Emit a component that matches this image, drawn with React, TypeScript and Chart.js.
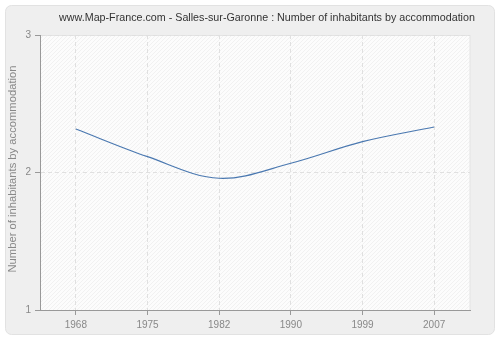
import React, { useEffect, useRef } from "react";
import { Chart, registerables } from "chart.js";

Chart.register(...registerables);

const TITLE = "www.Map-France.com - Salles-sur-Garonne : Number of inhabitants by accommodation";
const Y_TITLE = "Number of inhabitants by accommodation";
const years = ["1968", "1975", "1982", "1990", "1999", "2007"];
const values = [2.316, 2.115, 1.958, 2.067, 2.224, 2.331];
const yTicks = [1, 2, 3];

const FONT = "'Liberation Sans', Arial, sans-serif";

function fitFont(ctx: CanvasRenderingContext2D, text: string, target: number) {
  ctx.font = `12px ${FONT}`;
  const w = ctx.measureText(text).width;
  const size = Math.min(13, Math.max(8, (12 * target) / w));
  ctx.font = `${size.toFixed(2)}px ${FONT}`;
}

const backgroundPlugin = {
  id: "bgPanel",
  beforeDraw(chart: any) {
    const { ctx, chartArea } = chart;
    ctx.save();
    ctx.fillStyle = "#ffffff";
    ctx.fillRect(0, 0, chart.width, chart.height);
    const x = 5.5, y = 5.5, w = 489, h = 329, r = 6;
    ctx.beginPath();
    ctx.moveTo(x + r, y);
    ctx.arcTo(x + w, y, x + w, y + h, r);
    ctx.arcTo(x + w, y + h, x, y + h, r);
    ctx.arcTo(x, y + h, x, y, r);
    ctx.arcTo(x, y, x + w, y, r);
    ctx.closePath();
    ctx.fillStyle = "#efefef";
    ctx.fill();
    ctx.strokeStyle = "#e2e2e2";
    ctx.lineWidth = 1;
    ctx.stroke();
    const { left, top, right, bottom } = chartArea;
    ctx.fillStyle = "#fcfcfc";
    ctx.fillRect(left, top, right - left, bottom - top);
    ctx.beginPath();
    ctx.rect(left, top, right - left, bottom - top);
    ctx.clip();
    ctx.strokeStyle = "#f1f1f1";
    ctx.lineWidth = 1;
    ctx.beginPath();
    const hgt = bottom - top;
    for (let s = left - hgt; s < right + hgt; s += 4) {
      ctx.moveTo(s, bottom);
      ctx.lineTo(s + hgt, top);
    }
    ctx.stroke();
    ctx.restore();
    ctx.save();
    ctx.strokeStyle = "#e4e4e4";
    ctx.lineWidth = 1;
    ctx.strokeRect(left + 0.5, top + 0.5, right - left - 0.5, bottom - top);
    ctx.restore();
  },
  afterDraw(chart: any) {
    const { ctx } = chart;
    ctx.save();
    ctx.fillStyle = "#333333";
    fitFont(ctx, TITLE, 416);
    ctx.textAlign = "center";
    ctx.textBaseline = "middle";
    ctx.fillText(TITLE, 267, 18);
    ctx.translate(13, 169);
    ctx.rotate(-Math.PI / 2);
    ctx.fillStyle = "#888888";
    fitFont(ctx, Y_TITLE, 207);
    ctx.fillText(Y_TITLE, 0, 0);
    ctx.restore();
  },
};

export default function App() {
  const ref = useRef<HTMLCanvasElement>(null);
  useEffect(() => {
    document.body.style.margin = "0";
    const chart = new Chart(ref.current!, {
      type: "line",
      data: {
        labels: years,
        datasets: [
          {
            data: values,
            borderColor: "#4a78b0",
            borderWidth: 1.2,
            pointRadius: 0,
            tension: 0.35,
            fill: false,
          },
        ],
      },
      options: {
        animation: false,
        responsive: false,
        devicePixelRatio: 1,
        layout: { padding: { top: 35, right: 30, left: 0, bottom: 0 } },
        plugins: { legend: { display: false }, title: { display: false }, tooltip: { enabled: false } },
        scales: {
          x: {
            type: "category",
            offset: true,
            grid: {
              offset: false,
              color: "#e0e0e0",
              tickColor: "#999999",
              tickLength: 5,
              drawTicks: true,
            },
            border: { dash: [4, 3], color: "#999999", width: 1 },
            ticks: { color: "#888888", font: { family: "Liberation Sans", size: 10 }, padding: 4, maxRotation: 0 },
            afterFit: (s: any) => { s.height = 30; },
          },
          y: {
            min: 1,
            max: 3,
            afterBuildTicks: (s: any) => { s.ticks = yTicks.map((v) => ({ value: v })); },
            grid: {
              color: "#e0e0e0",
              tickColor: "#999999",
              tickLength: 5,
            },
            border: { dash: [4, 3], color: "#999999", width: 1 },
            ticks: { color: "#888888", font: { family: "Liberation Sans", size: 10 }, padding: 4 },
            afterFit: (s: any) => { s.width = 40; },
          },
        },
      },
      plugins: [backgroundPlugin],
    });
    return () => chart.destroy();
  }, []);
  return (
    <div style={{ position: "absolute", left: 0, top: 0, width: 500, height: 340 }}>
      <canvas ref={ref} width={500} height={340} style={{ width: 500, height: 340 }} />
    </div>
  );
}
